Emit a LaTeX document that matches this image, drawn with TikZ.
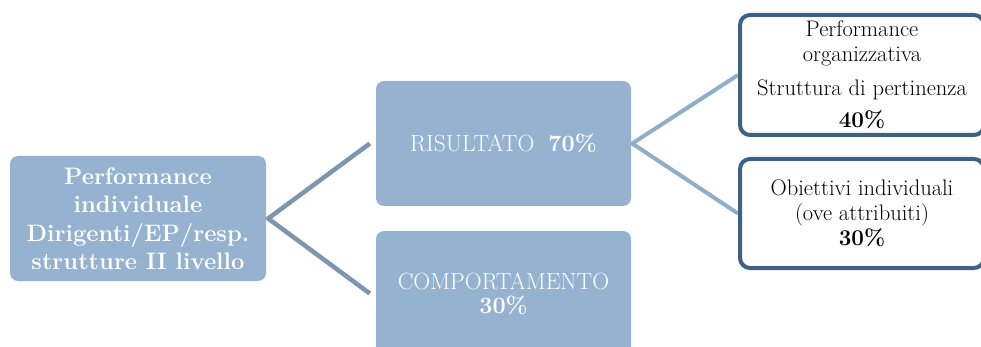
\documentclass[tikz,border=0pt]{standalone}
\usepackage{xcolor}
\usepackage{tikz}
\usetikzlibrary{positioning, backgrounds}
\definecolor{boxblue}{HTML}{95B3D1}
\definecolor{linkdark}{HTML}{7B96AE}
\definecolor{linklight}{HTML}{8EAECA}
\definecolor{edgeblue}{HTML}{3D6185}
\tikzset{%
	root/.style={rectangle, rounded corners=8pt, fill=boxblue, text=white, minimum width=256pt,%
		minimum height=125pt, inner sep=0pt, align=center, font=\fontsize{23.8}{28.5}\selectfont\bfseries},
	crit/.style={rectangle, rounded corners=8pt, fill=boxblue, text=white, minimum width=255pt,%
		minimum height=125pt, inner sep=0pt, align=center, font=\fontsize{23.4}{24}\selectfont},
	sub/.style={draw=edgeblue, line width=4pt, rectangle, rounded corners=10pt, fill=white,%
		minimum width=244pt, inner sep=0pt, align=center, font=\fontsize{22.5}{23.5}\selectfont},
	linkl/.style={draw=linkdark, line width=4.5pt},
	linkr/.style={draw=linklight, line width=4pt}
}

\begin{document}
\begin{tikzpicture}[x=1pt, y=-1pt]
			\useasboundingbox (0,0) rectangle (981,347);
			\clip (0,0) rectangle (981,347);
			\node[root] (perf) at (138,218.5) {Performance\\individuale\\Dirigenti/EP/resp.\\strutture II livello};
			\node[crit] (ris) at (503.5,143.5) {RISULTATO\ \ \textbf{70\%}};
			\node[crit] (comp) at (503.5,293.5) {COMPORTAMENTO\\\textbf{30\%}};
			\node[sub, minimum height=120pt] (org) at (862,75) {Performance\\[1.5pt]organizzativa\\[10pt]Struttura di pertinenza\\[9pt]\textbf{40\%}};
			\node[sub, minimum height=109pt] (obj) at (862,213.5) {Obiettivi individuali\\[1pt](ove attribuiti)\\[1.5pt]\textbf{30\%}};

			\begin{scope}[on background layer]
				\draw [linkl] ([xshift=-6pt]ris.west) -- ([xshift=2pt]perf.east) -- ([xshift=-6pt]comp.west);
				\draw [linkr] (org.west) -- ([xshift=1pt]ris.east) -- (obj.west);
			\end{scope}
		\end{tikzpicture}
\end{document}
